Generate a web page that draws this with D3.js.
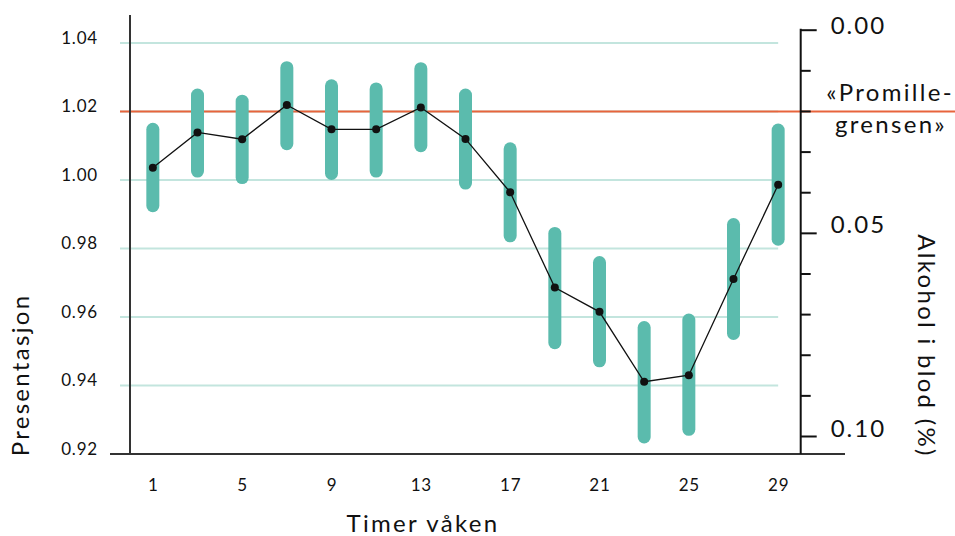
<!DOCTYPE html>
<html>
<head>
<meta charset="utf-8">
<style>
    body { margin: 0; background: #fff; }
    svg { display: block; font-family: Lato, "Open Sans", sans-serif; }
</style>
</head>
<body>
<div id="chart"></div>
<script src="https://d3js.org/d3.v7.min.js"></script>
<script>
    // hours awake
    const hours = [1, 3, 5, 7, 9, 11, 13, 15, 17, 19, 21, 23, 25, 27, 29];
    const meanVal = [1.0036, 1.0139, 1.0119, 1.0219, 1.0148, 1.0148, 1.0212, 1.0120, 0.9964, 0.9686, 0.9615, 0.9411, 0.9430, 0.9711, 0.9986];
    const upperVal = [1.0167, 1.0267, 1.0249, 1.0347, 1.0294, 1.0285, 1.0344, 1.0267, 1.0110, 0.9863, 0.9778, 0.9588, 0.9610, 0.9889, 1.0165];
    const lowerVal = [0.9906, 1.0007, 0.9988, 1.0087, 1.0000, 1.0007, 1.0081, 0.9972, 0.9818, 0.9506, 0.9453, 0.9231, 0.9253, 0.9533, 0.9808];

    const xTicks = [1, 5, 9, 13, 17, 21, 25, 29];
    const leftTicks = [0.92, 0.94, 0.96, 0.98, 1.00, 1.02, 1.04];
    const gridTicks = [0.94, 0.96, 0.98, 1.00, 1.02, 1.04];
    const rightMajor = [0, 0.05, 0.10];
    const rightMinor = [0.01, 0.02, 0.03, 0.04, 0.06, 0.07, 0.08, 0.09];
    const limitLevel = 1.02; // "promillegrensen" on the left scale (0.02 %)

    const width = 955, height = 536;
    const teal = "#5bbbad", grid = "#c3e5de", orange = "#e8643c", ink = "#111";
    const bigSpacing = "2.3px";

    const svg = d3.select("#chart").append("svg")
        .attr("width", width)
        .attr("height", height);

    const x = d3.scaleLinear().domain([0, 30]).range([130.5, 800.5]);
    const y = d3.scaleLinear().domain([0.92, 1.04]).range([454, 43]);
    const yR = d3.scaleLinear().domain([0, 0.10]).range([29.7, 436]);

    // gridlines
    svg.append("g")
        .selectAll("line")
        .data(gridTicks)
        .join("line")
        .attr("x1", 120)
        .attr("x2", x(29))
        .attr("y1", d => y(d))
        .attr("y2", d => y(d))
        .attr("stroke", grid)
        .attr("stroke-width", 2);

    // limit line
    svg.append("line")
        .attr("x1", 120)
        .attr("x2", width)
        .attr("y1", y(limitLevel))
        .attr("y2", y(limitLevel))
        .attr("stroke", orange)
        .attr("stroke-width", 2);

    // interval bars
    const barW = 13;
    svg.append("g")
        .selectAll("rect")
        .data(hours)
        .join("rect")
        .attr("x", (d, i) => x(d) - barW / 2)
        .attr("y", (d, i) => y(upperVal[i]))
        .attr("width", barW)
        .attr("height", (d, i) => y(lowerVal[i]) - y(upperVal[i]))
        .attr("rx", barW / 2)
        .attr("fill", teal);

    // mean line + points
    svg.append("path")
        .datum(hours)
        .attr("fill", "none")
        .attr("stroke", ink)
        .attr("stroke-width", 1.3)
        .attr("d", d3.line().x(d => x(d)).y((d, i) => y(meanVal[i])));

    svg.append("g")
        .selectAll("circle")
        .data(hours)
        .join("circle")
        .attr("cx", d => x(d))
        .attr("cy", (d, i) => y(meanVal[i]))
        .attr("r", 4)
        .attr("fill", ink);

    // left axis
    const leftAxis = svg.append("g")
        .attr("transform", "translate(130,0)")
        .call(d3.axisLeft(y).tickValues(leftTicks).tickSize(0).tickPadding(32)
            .tickFormat(d3.format(".2f")));
    leftAxis.select(".domain").remove();
    leftAxis.selectAll("text")
        .attr("dy", "0")
        .attr("font-size", 17)
        .attr("letter-spacing", "0.8px")
        .attr("font-family", "Lato, sans-serif")
        .attr("fill", ink);

    svg.append("line")
        .attr("x1", 130).attr("x2", 130)
        .attr("y1", 15).attr("y2", 454)
        .attr("stroke", "#333").attr("stroke-width", 2);

    // bottom axis
    const bottomAxis = svg.append("g")
        .attr("transform", "translate(0,454)")
        .call(d3.axisBottom(x).tickValues(xTicks).tickSize(0));
    bottomAxis.select(".domain").remove();
    bottomAxis.selectAll("text")
        .attr("y", 37)
        .attr("dy", "0")
        .attr("font-size", 17)
        .attr("letter-spacing", "0.8px")
        .attr("font-family", "Lato, sans-serif")
        .attr("fill", ink);

    svg.append("line")
        .attr("x1", 110).attr("x2", 845)
        .attr("y1", 454).attr("y2", 454)
        .attr("stroke", "#333").attr("stroke-width", 2);

    // right axis (alcohol in blood)
    const rightAxis = svg.append("g")
        .attr("transform", "translate(800.7,0)")
        .call(d3.axisRight(yR).tickValues(rightMajor).tickSize(16).tickPadding(14)
            .tickFormat(d3.format(".2f")));
    rightAxis.select(".domain").remove();
    rightAxis.selectAll(".tick line").attr("stroke", ink).attr("stroke-width", 2);
    rightAxis.selectAll("text")
        .attr("dy", (d, i) => i === 0 ? "0.15em" : "0")
        .attr("font-size", 24)
        .attr("letter-spacing", "2px")
        .attr("font-family", "Lato, sans-serif")
        .attr("fill", ink);

    const minorAxis = svg.append("g")
        .attr("transform", "translate(800.7,0)")
        .call(d3.axisRight(yR).tickValues(rightMinor).tickSize(10).tickFormat(""));
    minorAxis.select(".domain").remove();
    minorAxis.selectAll(".tick line").attr("stroke", ink).attr("stroke-width", 2);

    svg.append("line")
        .attr("x1", 800.7).attr("x2", 800.7)
        .attr("y1", yR(0) - 1).attr("y2", 454)
        .attr("stroke", ink).attr("stroke-width", 2);

    // limit label
    svg.append("text")
        .attr("x", 890).attr("y", 101)
        .attr("text-anchor", "middle")
        .attr("font-size", 24)
        .attr("letter-spacing", bigSpacing)
        .attr("fill", ink)
        .text("«Promille-");
    svg.append("text")
        .attr("x", 891).attr("y", 133)
        .attr("text-anchor", "middle")
        .attr("font-size", 24)
        .attr("letter-spacing", bigSpacing)
        .attr("fill", ink)
        .text("grensen»");

    // axis titles
    svg.append("text")
        .attr("x", 423).attr("y", 532)
        .attr("text-anchor", "middle")
        .attr("font-size", 24)
        .attr("letter-spacing", bigSpacing)
        .attr("fill", ink)
        .text("Timer våken");

    svg.append("text")
        .attr("transform", "translate(29,375) rotate(-90)")
        .attr("text-anchor", "middle")
        .attr("font-size", 24)
        .attr("letter-spacing", bigSpacing)
        .attr("fill", ink)
        .text("Presentasjon");

    svg.append("text")
        .attr("transform", "translate(918,346) rotate(90)")
        .attr("text-anchor", "middle")
        .attr("font-size", 24)
        .attr("letter-spacing", bigSpacing)
        .attr("fill", ink)
        .text("Alkohol i blod (%)");
</script>
</body>
</html>
